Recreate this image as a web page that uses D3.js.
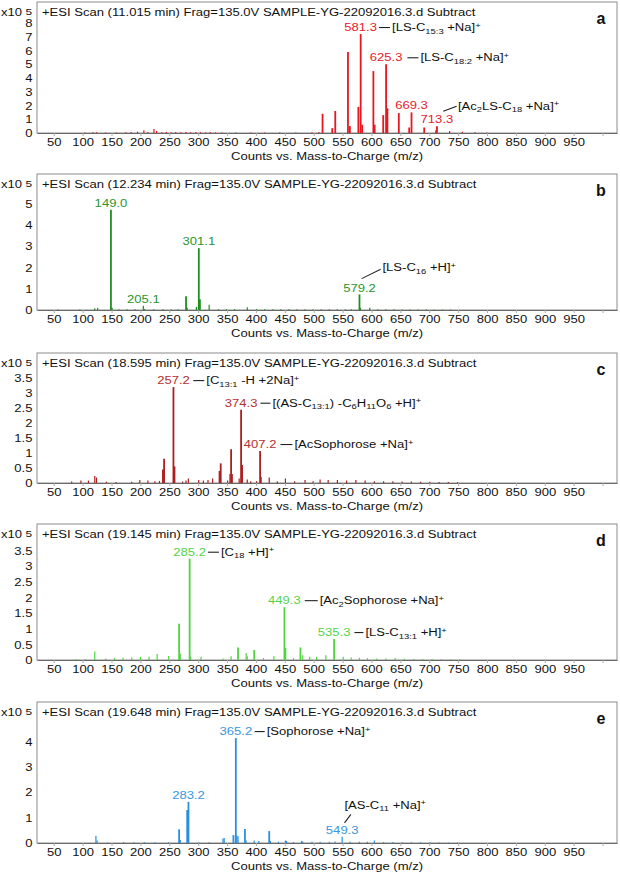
<!DOCTYPE html>
<html>
<head>
<meta charset="utf-8">
<script src="https://cdn.jsdelivr.net/npm/d3@7"></script>
<style>
    body { margin: 0; background: #fff; }
    svg text { font-family: "Liberation Sans", Arial, Helvetica, sans-serif; }
</style>
</head>
<body>
<svg id="chart" width="620" height="874"></svg>
<script>
// Peak lists: m/z and intensity (x10^5 counts)
const mzA = [104, 118, 124, 140, 158, 175, 184, 195, 206, 213, 223.5, 228, 237, 245, 253, 261, 270, 279, 287, 296, 304, 313, 321, 330,
    341, 365, 391, 415, 441, 469, 497, 509, 515.3, 532.1, 537.3, 559.3, 562.6, 577.3, 581.3, 584, 603.3, 605.5, 620.3, 625.3, 627.6,
    647.3, 665.3, 669.3, 691.3, 711.3, 713.3, 735.3, 757.3, 779.3, 800];
const intA = [0.03, 0.05, 0.06, 0.03, 0.04, 0.05, 0.08, 0.1, 0.2, 0.08, 0.3, 0.15, 0.06, 0.08, 0.05, 0.07, 0.06, 0.08, 0.05, 0.07, 0.06, 0.05, 0.07, 0.05,
    0.04, 0.03, 0.03, 0.03, 0.04, 0.04, 0.05, 0.08, 1.4, 0.35, 1.6, 5.9, 0.5, 1.9, 7.2, 0.6, 4.5, 0.6, 1.3, 5.0, 1.8,
    1.45, 0.4, 1.5, 0.4, 0.2, 0.5, 0.15, 0.1, 0.05, 0.03];

const mzB = [57, 95, 121, 126, 149.0, 151, 163, 177, 191, 205.1, 207, 223, 239, 253, 265, 279, 281, 297, 301.1, 303, 319, 335, 349, 363,
    385, 401, 415, 429, 443, 457, 471, 485, 499, 513, 527, 541, 555, 565, 579.2, 581, 597, 611, 625, 639, 653, 667, 681, 695, 709, 723, 737];
const intB = [0.02, 0.02, 0.08, 0.1, 4.7, 0.1, 0.03, 0.03, 0.03, 0.2, 0.05, 0.03, 0.03, 0.04, 0.03, 0.65, 0.1, 0.15, 2.9, 0.5, 0.25, 0.04, 0.04, 0.04,
    0.13, 0.05, 0.04, 0.04, 0.04, 0.03, 0.03, 0.03, 0.03, 0.03, 0.03, 0.04, 0.03, 0.04, 0.73, 0.1, 0.1, 0.03, 0.03, 0.03, 0.02, 0.02, 0.02, 0.02, 0.02, 0.02, 0.02];

const mzC = [81, 97, 110, 121, 124, 141, 158, 185, 199, 213, 225, 233, 239, 241, 257.2, 259, 273, 279, 283, 301, 309, 317, 325, 337, 339,
    351, 355, 357, 359, 371, 374.3, 376, 385, 391, 401, 407.2, 409, 423, 437, 451, 467, 485, 499, 511, 525, 541, 557, 573, 589, 605,
    621, 637, 653, 669, 685, 701, 717, 733, 749];
const intC = [0.05, 0.08, 0.08, 0.23, 0.18, 0.04, 0.03, 0.04, 0.1, 0.08, 0.06, 0.07, 0.45, 0.8, 3.18, 0.55, 0.05, 0.08, 0.15, 0.1, 0.08, 0.1, 0.15, 0.4, 0.65,
    0.08, 0.3, 1.12, 0.3, 0.15, 2.43, 0.6, 0.12, 0.06, 0.06, 1.06, 0.2, 0.18, 0.06, 0.15, 0.06, 0.1, 0.06, 0.12, 0.1, 0.1, 0.08, 0.1, 0.08, 0.06,
    0.06, 0.06, 0.05, 0.05, 0.04, 0.04, 0.03, 0.03, 0.03];

const mzD = [89, 105, 121, 140, 155, 170, 185, 200, 215, 229, 249, 267, 269, 285.2, 287, 305, 343, 357, 369, 383, 385, 397, 413, 431,
    449.3, 451, 465, 477, 481, 493, 505, 521, 535.3, 551, 565, 579, 593, 609, 625, 641, 657, 673, 689, 705, 721, 737, 753];
const intD = [0.02, 0.03, 0.27, 0.05, 0.06, 0.07, 0.08, 0.1, 0.1, 0.19, 0.13, 1.16, 0.2, 3.24, 0.1, 0.1, 0.05, 0.12, 0.4, 0.22, 0.12, 0.32, 0.06, 0.12,
    1.69, 0.38, 0.06, 0.4, 0.15, 0.1, 0.1, 0.15, 0.67, 0.1, 0.08, 0.07, 0.06, 0.05, 0.05, 0.06, 0.04, 0.03, 0.03, 0.03, 0.02, 0.02, 0.02];

const mzE = [123, 125, 143, 171, 189, 207, 225, 249, 267, 269, 281, 283.2, 301, 319, 343, 345, 361, 365.2, 367, 369, 381, 383, 397, 405,
    423, 425, 439, 451, 453, 465, 479, 481, 497, 511, 527, 537, 549.3, 563, 579, 593, 605, 621, 637, 653, 669, 685, 701, 717, 733, 749];
const intE = [0.29, 0.1, 0.02, 0.04, 0.03, 0.03, 0.03, 0.03, 0.54, 0.12, 1.3, 1.62, 0.03, 0.03, 0.18, 0.2, 0.31, 4.13, 0.3, 0.27, 0.55, 0.1, 0.1, 0.08,
    0.47, 0.08, 0.05, 0.1, 0.08, 0.04, 0.08, 0.06, 0.05, 0.05, 0.05, 0.06, 0.25, 0.05, 0.05, 0.05, 0.1, 0.04, 0.04, 0.03, 0.03, 0.03, 0.03, 0.02, 0.02, 0.02];

// Retention times, labelled peaks and annotations
const scanTimes = ["11.015", "12.234", "18.595", "19.145", "19.648"];
const panelIds = ["a", "b", "c", "d", "e"];
const labelPeaksA = [581.3, 625.3, 669.3, 713.3];
const labelPeaksB = [149.0, 205.1, 301.1, 579.2];
const labelPeaksC = [257.2, 374.3, 407.2];
const labelPeaksD = [285.2, 449.3, 535.3];
const labelPeaksE = [283.2, 365.2, 549.3];
const notesA = [[581.3, "[LS-C_{15:3} +Na]^{+}"], [625.3, "[LS-C_{18:2} +Na]^{+}"], [713.3, "[Ac_{2}LS-C_{18} +Na]^{+}"]];
const notesB = [[579.2, "[LS-C_{16} +H]^{+}"]];
const notesC = [[257.2, "[C_{13:1} -H +2Na]^{+}"], [374.3, "[(AS-C_{13:1}) -C_{6}H_{11}O_{6} +H]^{+}"], [407.2, "[AcSophorose +Na]^{+}"]];
const notesD = [[285.2, "[C_{18} +H]^{+}"], [449.3, "[Ac_{2}Sophorose +Na]^{+}"], [535.3, "[LS-C_{13:1} +H]^{+}"]];
const notesE = [[365.2, "[Sophorose +Na]^{+}"], [549.3, "[AS-C_{11} +Na]^{+}"]];

// Tick labels
const xTickLabels = [50, 100, 150, 200, 250, 300, 350, 400, 450, 500, 550, 600, 650, 700, 750, 800, 850, 900, 950];
const xTickMarks = [50, 100, 150, 200, 250, 300, 350, 400, 450, 500, 550, 600, 650, 700, 750, 800, 850, 900, 950, 1000];
const yTicksA = [0, 1, 2, 3, 4, 5, 6, 7, 8];
const yTicksB = [0, 1, 2, 3, 4, 5];
const yTicksC = [0, 0.5, 1, 1.5, 2, 2.5, 3, 3.5];
const yTicksD = [0, 0.5, 1, 1.5, 2, 2.5, 3, 3.5];
const yTicksE = [0, 1, 2, 3, 4];

// Layout
const SX = 1.25;      // the figure's text is horizontally stretched
const FS = 10.45;
const left = 37, right = 617;
const tops = [2, 174, 353, 524, 702];
const bases = [133, 310, 483, 660, 843];
const yMaxes = [9.53, 6.375, 4.31, 4.35, 5.55];
const colors = ["#e8161e", "#1f8f1f", "#ab1f1f", "#4fd43f", "#2b8fe0"];
const labelColors = ["#e8202a", "#2a962a", "#b53030", "#55d448", "#3a96e0"];

// leader line layout, keyed by "panel:peak"
const noteLayout = {
    "a:581.3": { gap: 2, len: 11 },
    "a:625.3": { gap: 5, len: 11 },
    "a:713.3": { diag: [6.3, -8.4, 19.7, -13.4], tx: 21, ty: -13.7 },
    "b:579.2": { diag: [2.2, -9.3, 21.2, -18.7], tx: 23, ty: -20.3 },
    "c:257.2": { gap: 3.5, len: 11 },
    "c:374.3": { gap: 3, len: 10 },
    "c:407.2": { gap: 4, len: 12 },
    "d:285.2": { gap: 2, len: 11 },
    "d:449.3": { gap: 4, len: 13 },
    "d:535.3": { gap: 4, len: 9 },
    "e:365.2": { gap: 2.5, len: 10 },
    "e:549.3": { diag: [2.3, -7.3, 8.7, -15.7], tx: 2.3, ty: -24.7 }
};

const panels = [
    { mz: mzA, int: intA, peaks: labelPeaksA, notes: notesA, yTicks: yTicksA },
    { mz: mzB, int: intB, peaks: labelPeaksB, notes: notesB, yTicks: yTicksB },
    { mz: mzC, int: intC, peaks: labelPeaksC, notes: notesC, yTicks: yTicksC },
    { mz: mzD, int: intD, peaks: labelPeaksD, notes: notesD, yTicks: yTicksD },
    { mz: mzE, int: intE, peaks: labelPeaksE, notes: notesE, yTicks: yTicksE }
];

const svg = d3.select("#chart");
const xScale = d3.scaleLinear().domain([21, 1025]).range([left, right]);

// split "_{..}" and "^{..}" markup into parts
function parts(str) {
    const out = [];
    const re = /([_^])\{([^}]*)\}/g;
    let last = 0, m;
    while ((m = re.exec(str))) {
        if (m.index > last) out.push([str.slice(last, m.index), ""]);
        out.push([m[2], m[1]]);
        last = re.lastIndex;
    }
    if (last < str.length) out.push([str.slice(last), ""]);
    return out;
}

function label(g, x, y, str, anchor, color, size) {
    const t = g.append("text")
        .attr("transform", `translate(${x},${y}) scale(${SX},1)`)
        .attr("text-anchor", anchor || "start")
        .attr("fill", color || "#111")
        .style("font-size", (size || FS) + "px");
    let shift = 0;
    parts(str).forEach(([s, k]) => {
        const target = k === "_" ? 2.4 : k === "^" ? -3.6 : 0;
        t.append("tspan")
            .attr("dy", target - shift)
            .style("font-size", k ? "0.72em" : null)
            .text(s);
        shift = target;
    });
    return t;
}

panels.forEach((p, i) => {
    const top = tops[i], base = bases[i];
    const yScale = d3.scaleLinear().domain([0, yMaxes[i]]).range([base, top]);
    const g = svg.append("g");
    const id = panelIds[i];

    // frame
    g.append("rect")
        .attr("x", left).attr("y", top)
        .attr("width", right - left).attr("height", base - top)
        .attr("fill", "none").attr("stroke", "#8c8c8c").attr("stroke-width", 1);

    // peaks
    const data = p.mz.map((m, k) => ({ mz: m, v: p.int[k] }));
    g.selectAll("line.peak").data(data).enter().append("line")
        .attr("class", "peak")
        .attr("x1", d => xScale(d.mz)).attr("x2", d => xScale(d.mz))
        .attr("y1", yScale(0)).attr("y2", d => yScale(d.v))
        .attr("stroke", colors[i])
        .attr("stroke-width", d => d.v > 0.3 ? 1.8 : 1.2);

    // x axis
    const xAxis = g.append("g")
        .attr("transform", `translate(0,${base})`)
        .call(d3.axisBottom(xScale).tickValues(xTickMarks).tickSize(3).tickSizeOuter(0)
            .tickFormat(d => xTickLabels.includes(d) ? d : ""));
    xAxis.select(".domain").attr("stroke", "#6a6a6a");
    xAxis.selectAll(".tick line").attr("stroke", "#aaa");
    xAxis.selectAll(".tick text")
        .attr("y", 0).attr("dy", 0)
        .attr("transform", `translate(0,13.4) scale(${SX},1)`)
        .attr("fill", "#111")
        .style("font-size", FS + "px").style("font-family", null);

    // y axis
    const yAxis = g.append("g")
        .attr("transform", `translate(${left},0)`)
        .call(d3.axisLeft(yScale).tickValues(p.yTicks).tickSize(0).tickFormat(d3.format("~g")));
    yAxis.select(".domain").remove();
    yAxis.selectAll(".tick text")
        .attr("x", 0).attr("dy", 0)
        .attr("transform", `translate(-4.5,3.7) scale(${SX},1)`)
        .attr("fill", "#111")
        .style("font-size", FS + "px").style("font-family", null);

    // multiplier and header
    label(g, 1, top + 14, "x10", "start");
    label(g, 25.5, top + 13, "5", "start", "#111", 9.5);
    label(g, 42, top + 13.5, `+ESI Scan (${scanTimes[i]} min) Frag=135.0V SAMPLE-YG-22092016.3.d  Subtract`, "start");
    g.append("text")
        .attr("x", 601).attr("y", top + 21.5)
        .attr("text-anchor", "middle")
        .style("font-size", "16px").style("font-weight", "bold")
        .attr("fill", "#111")
        .text(id);

    // axis title
    label(g, 327, base + 27, "Counts vs. Mass-to-Charge (m/z)", "middle");

    // peak labels
    const labelPos = {};
    p.peaks.forEach(m => {
        const v = p.int[p.mz.indexOf(m)];
        const cx = xScale(m), cy = yScale(v) - 6.5;
        const t = label(g, cx, cy + 3.6, m.toFixed(1), "middle", labelColors[i]);
        const w = t.node().getComputedTextLength() * SX;
        labelPos[m] = { cx: cx, cy: cy, right: cx + w / 2 };
    });

    // annotations with leader lines
    p.notes.forEach(([m, text]) => {
        const pos = labelPos[m];
        const lay = noteLayout[id + ":" + m];
        if (lay.diag) {
            const [dx1, dy1, dx2, dy2] = lay.diag;
            g.append("line")
                .attr("x1", pos.cx + dx1).attr("y1", pos.cy + dy1)
                .attr("x2", pos.cx + dx2).attr("y2", pos.cy + dy2)
                .attr("stroke", "#222").attr("stroke-width", 1.1);
            label(g, pos.cx + lay.tx, pos.cy + lay.ty + 3.6, text, "start");
        } else {
            const x1 = pos.right + lay.gap, x2 = x1 + lay.len;
            g.append("line")
                .attr("x1", x1).attr("y1", pos.cy)
                .attr("x2", x2).attr("y2", pos.cy)
                .attr("stroke", "#222").attr("stroke-width", 1.1);
            label(g, x2 + 2, pos.cy + 3.6, text, "start");
        }
    });
});
</script>
</body>
</html>
